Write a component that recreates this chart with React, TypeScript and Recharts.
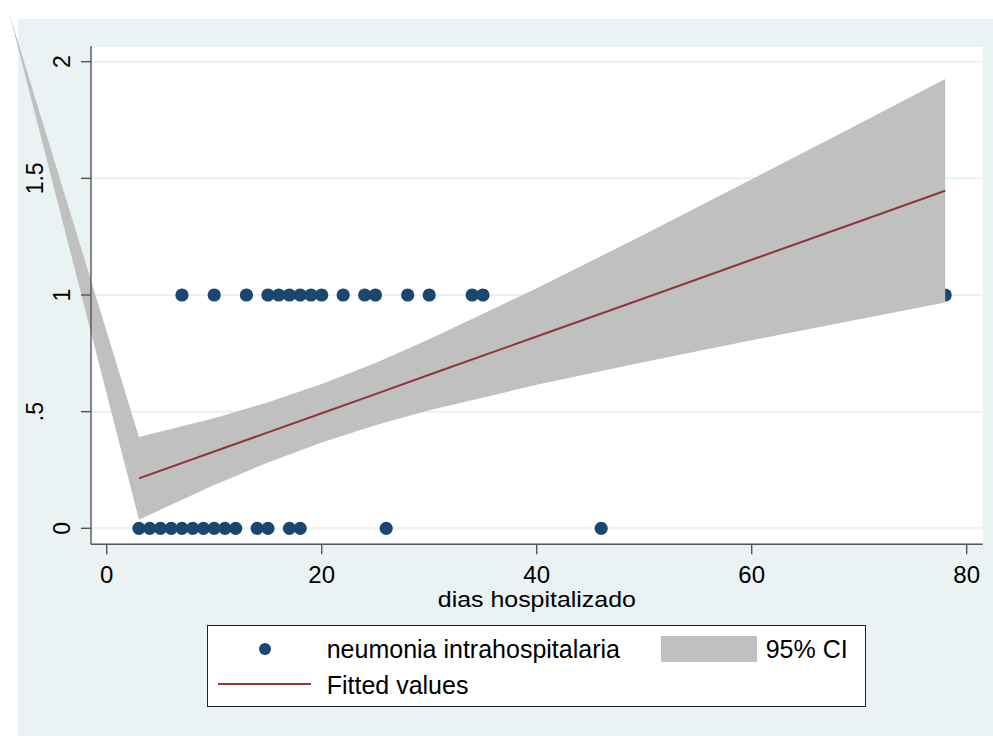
import React from 'react';
import {
  ComposedChart, Scatter, Area, Line, XAxis, YAxis, CartesianGrid, Legend, ReferenceLine, Label,
} from 'recharts';

const FONT = '"Liberation Sans", Arial, Helvetica, sans-serif';

// observations: dias hospitalizado, split by outcome (1 = neumonia, 0 = no)
const diasConNeumonia = [7, 10, 13, 15, 16, 17, 18, 19, 20, 22, 24, 25, 28, 30, 34, 35, 78];
const diasSinNeumonia = [3, 4, 5, 6, 7, 8, 9, 10, 11, 12, 14, 15, 17, 18, 26, 46];

// linear fit + 95% CI
const fitX = [3, 10, 15, 20, 25, 30, 40, 50, 60, 70, 78];
const fitted = [0.214, 0.329, 0.411, 0.493, 0.575, 0.658, 0.822, 0.986, 1.151, 1.315, 1.447];
const ciUpper = [0.391, 0.472, 0.54, 0.618, 0.708, 0.81, 1.029, 1.259, 1.496, 1.734, 1.926];
const ciLower = [0.037, 0.186, 0.282, 0.368, 0.442, 0.506, 0.615, 0.713, 0.806, 0.896, 0.968];

// stray CI vertex that Stata drew outside the plot region
const strayX = -9.06;
const strayY = 2.207;

const xTicks = [0, 20, 40, 60, 80];
const yTicks = [0, 0.5, 1, 1.5, 2];
const yTickLabels = ['0', '.5', '1', '1.5', '2'];

const NAVY = '#1A476F';
const MAROON = '#90353B';
const CI_GRAY = '#C0C0C0';
const BG = '#EAF2F3';
const AXIS = '#555';

const scatterData = [
  ...diasSinNeumonia.map((x) => ({ x, y: 0 })),
  ...diasConNeumonia.map((x) => ({ x, y: 1 })),
];
const fitData = fitX.map((x, i) => ({ x, fit: fitted[i], ci: [ciLower[i], ciUpper[i]] }));

function XTick({ x, y, payload }: any) {
  return (
    <text x={x} y={y + 27} textAnchor="middle" fontFamily={FONT} fontSize={24} fill="#000">
      {payload.value}
    </text>
  );
}

// Stata "alternate" labels: every other label sits further out
function YTick({ x, y, payload }: any) {
  const i = yTicks.indexOf(payload.value);
  const cx = x - (i % 2 === 1 ? 44 : 17);
  return (
    <text
      transform={`translate(${cx},${y}) rotate(-90)`}
      textAnchor="middle"
      dominantBaseline="central"
      fontFamily={FONT}
      fontSize={23}
      fill="#000"
    >
      {yTickLabels[i]}
    </text>
  );
}

function XTitle({ viewBox }: any) {
  if (!viewBox) return null;
  return (
    <text
      x={viewBox.x + viewBox.width / 2}
      y={viewBox.y + 62.4}
      textAnchor="middle"
      fontFamily={FONT}
      fontSize={22}
      textLength={198}
      lengthAdjust="spacingAndGlyphs"
      fill="#000"
    >
      dias hospitalizado
    </text>
  );
}

// wedge from the stray vertex down to the first CI segment
function StrayWedge({ x1, y1, x2, y2 }: any) {
  const k = (ciUpper[0] - ciLower[0]) / (strayY - ciLower[0]);
  const yHi = y2 + (y1 - y2) * k;
  return <polygon points={`${x1},${y1} ${x2},${yHi} ${x2},${y2}`} fill={CI_GRAY} />;
}

const slots: Record<string, { sym: React.CSSProperties; text: React.CSSProperties }> = {
  circle: {
    sym: { left: 51, top: 17, width: 12, height: 12, borderRadius: '50%' },
    text: { left: 119, top: 8 },
  },
  rect: {
    sym: { left: 453, top: 10, width: 96, height: 26 },
    text: { left: 558, top: 8 },
  },
  line: {
    sym: { left: 10, top: 57, width: 93, height: 2 },
    text: { left: 119, top: 44 },
  },
};

function StataLegend({ payload }: any) {
  const items = payload ?? [];
  return (
    <div
      style={{
        position: 'relative', width: 659, height: 82, boxSizing: 'border-box',
        border: '1px solid #222', background: '#fff', fontFamily: FONT, fontSize: 25, color: '#000',
      }}
    >
      {items.map((it: any) => {
        const slot = slots[it.type];
        if (!slot) return null;
        return (
          <React.Fragment key={it.value}>
            <div style={{ position: 'absolute', background: it.color, ...slot.sym }} />
            <div style={{ position: 'absolute', lineHeight: '30px', whiteSpace: 'nowrap', ...slot.text }}>
              {it.value}
            </div>
          </React.Fragment>
        );
      })}
    </div>
  );
}

export default function App() {
  return (
    <div style={{ position: 'absolute', left: 0, top: 0, width: 993, height: 736, background: '#fff', overflow: 'hidden' }}>
      <div style={{ position: 'absolute', left: 18, top: 19, right: 0, bottom: 0, background: BG }} />
      <div style={{ position: 'absolute', left: 0, top: 0 }}>
        <ComposedChart width={993} height={736} margin={{ top: 46, right: 10.3, bottom: 0, left: 0 }}>
          <CartesianGrid vertical={false} stroke={BG} strokeWidth={2} fill="#fff" />
          <XAxis
            type="number"
            dataKey="x"
            domain={[-1.46, 81.49]}
            allowDataOverflow
            ticks={xTicks}
            height={191.7}
            tickSize={10}
            tick={<XTick />}
            axisLine={{ stroke: AXIS, strokeWidth: 1.4 }}
            tickLine={{ stroke: AXIS, strokeWidth: 1.4 }}
          >
            <Label content={<XTitle />} />
          </XAxis>
          <YAxis
            type="number"
            domain={[-0.0686, 2.0673]}
            allowDataOverflow
            ticks={yTicks}
            width={91}
            tickSize={10}
            tick={<YTick />}
            axisLine={{ stroke: AXIS, strokeWidth: 1.4 }}
            tickLine={{ stroke: AXIS, strokeWidth: 1.4 }}
          />
          {/* Stata draws the scatter first, so the CI band covers it */}
          <Scatter
            name="neumonia intrahospitalaria"
            data={scatterData}
            dataKey="y"
            fill={NAVY}
            legendType="circle"
            zIndex={50}
            isAnimationActive={false}
            shape={(p: any) => <circle cx={p.cx} cy={p.cy} r={6.6} fill={NAVY} />}
          />
          <Area
            name="95% CI"
            data={fitData}
            dataKey="ci"
            type="linear"
            stroke="none"
            fill={CI_GRAY}
            fillOpacity={1}
            legendType="rect"
            dot={false}
            activeDot={false}
            isAnimationActive={false}
          />
          <Line
            name="Fitted values"
            data={fitData}
            dataKey="fit"
            type="linear"
            stroke={MAROON}
            strokeWidth={2}
            legendType="line"
            dot={false}
            activeDot={false}
            isAnimationActive={false}
          />
          <ReferenceLine
            segment={[{ x: strayX, y: strayY }, { x: fitX[0], y: ciLower[0] }]}
            ifOverflow="visible"
            shape={<StrayWedge />}
          />
          <Legend
            layout="horizontal"
            align="center"
            verticalAlign="middle"
            wrapperStyle={{ left: 206.7, top: 625, width: 659, height: 82 }}
            content={<StataLegend />}
          />
        </ComposedChart>
      </div>
    </div>
  );
}
